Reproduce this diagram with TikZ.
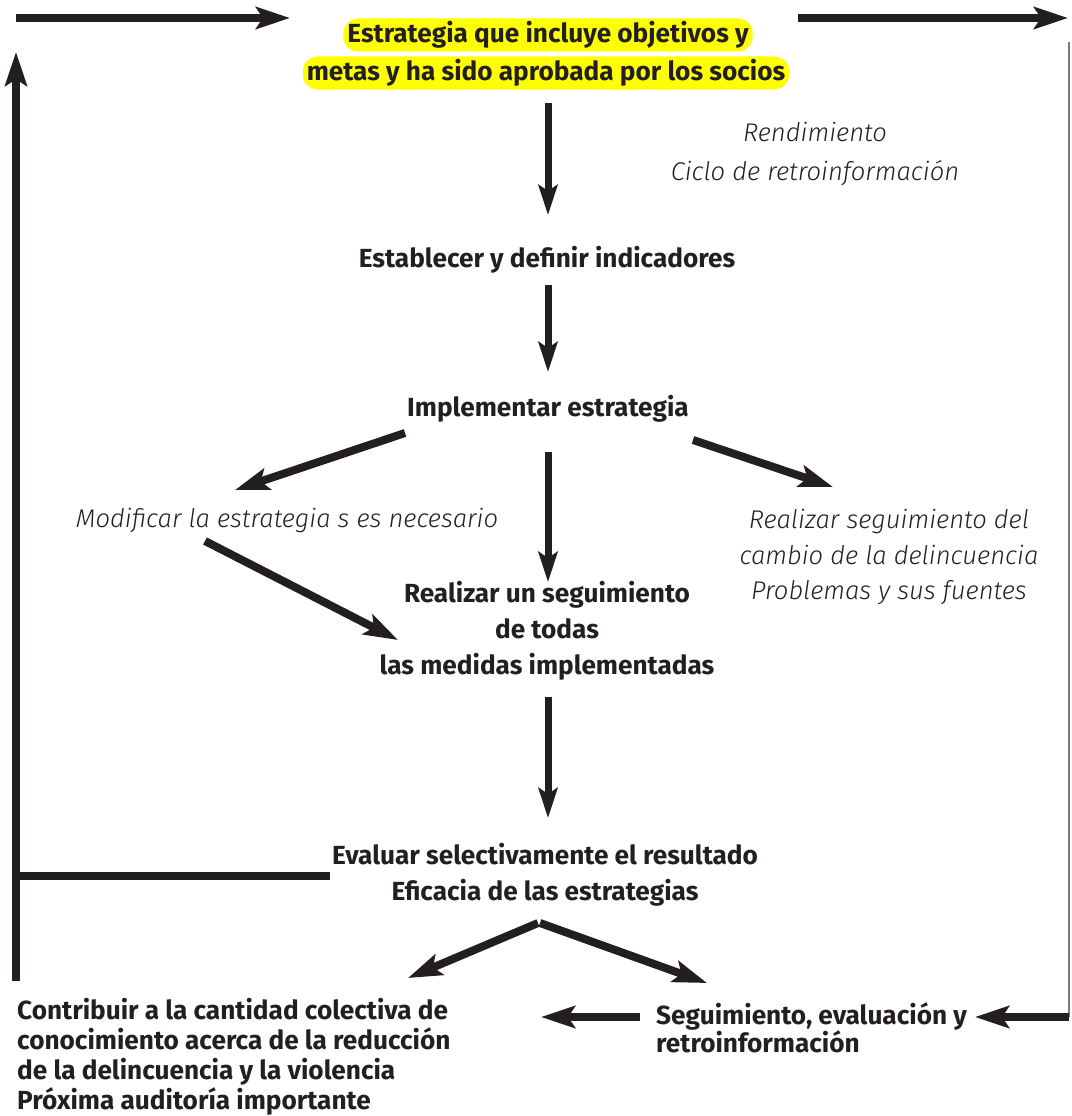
\documentclass[tikz,border=0pt]{standalone}
\usepackage{fontspec}
\setmainfont{Fira Sans}
\newfontfamily\lightfont{Fira Sans Light}
\usetikzlibrary{arrows.meta}
\definecolor{ink}{HTML}{231F20}
\definecolor{hl}{HTML}{FFFF00}
\begin{document}
\begin{tikzpicture}[x=1pt,y=-1pt,
  bt/.style={font=\fontsize{26.2}{36}\selectfont\bfseries, text=ink, align=center, inner sep=0pt},
  it/.style={font=\fontsize{25.6}{36}\selectfont\lightfont\itshape, text=ink, align=center, inner sep=0pt},
  hlbox/.style={bt, fill=hl, rounded corners=15pt, minimum height=33pt, inner xsep=4pt},
  arr/.style={draw=ink, line width=8pt, -{Stealth[length=34pt,width=22pt,inset=7pt]}},
  darr/.style={draw=ink, line width=7pt, -{Stealth[length=30pt,width=19pt,inset=6pt]}},
  thick line/.style={draw=ink, line width=8pt},
  thin line/.style={draw=ink!60, line width=1.5pt}
]
\useasboundingbox (0,0) rectangle (1071,1116);

% nodes
\node[hlbox] (hlA) at (548,35) {Estrategia que incluye objetivos y};
\node[hlbox] (hlB) at (546,73) {metas y ha sido aprobada por los socios};
\node[it, font=\fontsize{25.6}{39}\selectfont\lightfont\itshape] (rend) at (815,154) {Rendimiento\\Ciclo de retroinformación};
\node[bt] (estab) at (547,260) {Establecer y definir indicadores};
\node[bt] (impl) at (548,409) {Implementar estrategia};
\node[it] (mod) at (287,521) {Modificar la estrategia s es necesario};
\node[it, font=\fontsize{25.6}{35.5}\selectfont\lightfont\itshape] (track) at (889,557) {Realizar seguimiento del\\cambio de la delincuencia\\Problemas y sus fuentes};
\node[bt] (medidas) at (547,631) {Realizar un seguimiento\\de todas\\las medidas implementadas};
\node[bt] (eval) at (545,875) {Evaluar selectivamente el resultado\\Eficacia de las estrategias};
\node[bt, align=left, anchor=west, font=\fontsize{26.2}{30}\selectfont\bfseries] (contrib) at (17,1057) {Contribuir a la cantidad colectiva de\\conocimiento acerca de la reducción\\de la delincuencia y la violencia\\Próxima auditoría importante};
\node[bt, align=left, anchor=west, font=\fontsize{26.2}{28}\selectfont\bfseries] (seg) at (656,1028) {Seguimiento, evaluación y\\retroinformación};

% connector end points
\coordinate (a1s) at (548,103); \coordinate (a1e) at (548,215);
\coordinate (a2s) at (548,285); \coordinate (a2e) at (548,372);
\coordinate (a3s) at (405,433); \coordinate (a3e) at (235,490);
\coordinate (a4s) at (548,452); \coordinate (a4e) at (548,582);
\coordinate (a5s) at (693,440); \coordinate (a5e) at (833,487);
\coordinate (a6s) at (205,541); \coordinate (a6e) at (398,640);
\coordinate (a7s) at (548,697); \coordinate (a7e) at (548,818);
\coordinate (a8s) at (538,923); \coordinate (a8e) at (408,978);
\coordinate (a9s) at (540,923); \coordinate (a9e) at (707,983);
\coordinate (a10s) at (640,1017); \coordinate (a10e) at (541,1017);
\coordinate (rb) at (1069,1017); \coordinate (rt) at (1069,42);
\coordinate (a11e) at (975,1017);
\coordinate (lb) at (16,981); \coordinate (lt) at (16,52);
\coordinate (lj) at (16,876); \coordinate (ej) at (330,876);
\coordinate (t1s) at (16,18); \coordinate (t1e) at (290,18);
\coordinate (t2s) at (798,18); \coordinate (t2e) at (1068,18);

% connectors
\draw[darr] (a1s) -- (a1e);
\draw[darr] (a2s) -- (a2e);
\draw[arr] (a3s) -- (a3e);
\draw[darr] (a4s) -- (a4e);
\draw[arr] (a5s) -- (a5e);
\draw[arr] (a6s) -- (a6e);
\draw[darr] (a7s) -- (a7e);
\draw[arr] (a8s) -- (a8e);
\draw[arr] (a9s) -- (a9e);
\draw[arr] (a10s) -- (a10e);
\draw[thin line] (rt) -- (rb);
\draw[arr] (rb) -- (a11e);
\draw[arr, line cap=butt] (lb) -- (lt);
\draw[thick line] (lj) -- (ej);
\draw[arr] (t1s) -- (t1e);
\draw[arr] (t2s) -- (t2e);
\end{tikzpicture}
\end{document}
